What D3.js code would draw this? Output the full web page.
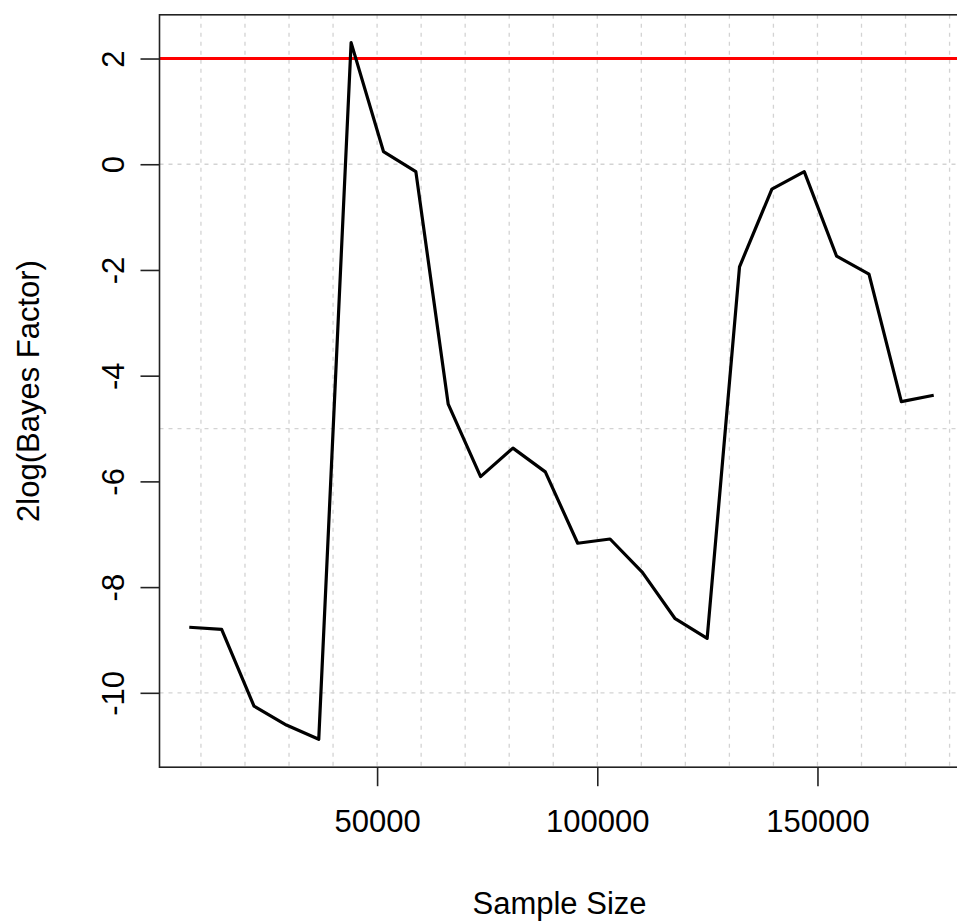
<!DOCTYPE html>
<html>
<head>
<meta charset="utf-8">
<script src="https://cdnjs.cloudflare.com/ajax/libs/d3/7.8.5/d3.min.js"></script>
<style>
  body { margin: 0; background: #fff; }
  text { font-family: "Liberation Sans", Arial, sans-serif; fill: #000; }
</style>
</head>
<body>
<div id="plot"></div>
<script>
// sample sizes (x) and 2log(Bayes Factor) values (y)
const sampleSize = [7350, 14700, 22050, 29400, 36750, 44100, 51450, 58800,
    66150, 73500, 80850, 88200, 95550, 102900, 110250, 117600,
    124950, 132300, 139650, 147000, 154350, 161700, 169050, 176400];
const bayesFactor = [-8.76, -8.80, -10.25, -10.61, -10.88, 2.30, 0.24, -0.14,
    -4.54, -5.91, -5.37, -5.82, -7.17, -7.09, -7.72, -8.59,
    -8.97, -1.94, -0.47, -0.14, -1.74, -2.08, -4.49, -4.37];
const threshold = 2;

const xTicks = [50000, 100000, 150000];
const yTicks = [2, 0, -2, -4, -6, -8, -10];
const xGrid = [10000, 20000, 30000, 40000, 50000, 60000, 70000, 80000, 90000,
    100000, 110000, 120000, 130000, 140000, 150000, 160000, 170000, 180000];
const yGrid = [0, -5, -10];

const W = 957, H = 922;
const plot = {left: 159.5, right: 963.5, top: 14.8, bottom: 767.2};

const svg = d3.select("#plot").append("svg")
    .attr("width", W)
    .attr("height", H);

// R style axis limits: data range padded by 4% on each side
function pad(ext) {
    const d = (ext[1] - ext[0]) * 0.04;
    return [ext[0] - d, ext[1] + d];
}

const x = d3.scaleLinear()
    .domain(pad(d3.extent(sampleSize)))
    .range([plot.left, plot.right]);

const y = d3.scaleLinear()
    .domain(pad(d3.extent(bayesFactor)))
    .range([plot.bottom, plot.top]);

// dotted grid
svg.append("g").selectAll("line").data(xGrid)
    .enter().append("line")
    .attr("x1", d => x(d)).attr("x2", d => x(d))
    .attr("y1", plot.top).attr("y2", plot.bottom)
    .attr("stroke", "#d3d3d3")
    .attr("stroke-width", 1.3)
    .attr("stroke-dasharray", "4,5");

svg.append("g").selectAll("line").data(yGrid)
    .enter().append("line")
    .attr("x1", plot.left).attr("x2", plot.right)
    .attr("y1", d => y(d)).attr("y2", d => y(d))
    .attr("stroke", "#d3d3d3")
    .attr("stroke-width", 1.3)
    .attr("stroke-dasharray", "4,5");

// threshold line
svg.append("line")
    .attr("x1", plot.left).attr("x2", plot.right)
    .attr("y1", y(threshold)).attr("y2", y(threshold))
    .attr("stroke", "#ff0000")
    .attr("stroke-width", 3);

// the series
const line = d3.line()
    .x((d, i) => x(sampleSize[i]))
    .y(d => y(d));

svg.append("path")
    .datum(bayesFactor)
    .attr("d", line)
    .attr("fill", "none")
    .attr("stroke", "#000")
    .attr("stroke-width", 3.2)
    .attr("stroke-linejoin", "round");

// box
svg.append("rect")
    .attr("x", plot.left).attr("y", plot.top)
    .attr("width", plot.right - plot.left)
    .attr("height", plot.bottom - plot.top)
    .attr("fill", "none")
    .attr("stroke", "#222")
    .attr("stroke-width", 1.6);

// x axis
const xAxis = svg.append("g")
    .attr("transform", "translate(0," + plot.bottom + ")")
    .call(d3.axisBottom(x).tickValues(xTicks).tickSize(19).tickPadding(24).tickFormat(d3.format("d")));
xAxis.select(".domain").remove();
xAxis.selectAll("line").attr("stroke", "#222").attr("stroke-width", 1.6);
xAxis.selectAll("text")
    .style("font-size", "31px")
    .attr("font-family", null);

// y axis, labels turned like R's default las = 0
const yAxis = svg.append("g")
    .attr("transform", "translate(" + plot.left + ",0)")
    .call(d3.axisLeft(y).tickValues(yTicks).tickSize(19).tickFormat(d3.format("d")));
yAxis.select(".domain").remove();
yAxis.selectAll("line").attr("stroke", "#222").attr("stroke-width", 1.6);
yAxis.selectAll("text")
    .attr("x", null).attr("dy", null)
    .attr("transform", "translate(-46,0) rotate(-90)")
    .attr("text-anchor", "middle")
    .attr("dy", "0.35em")
    .style("font-size", "31px")
    .text(d => d < 0 ? "-" + Math.abs(d) : d);

// axis titles
svg.append("text")
    .attr("x", (plot.left + plot.right) / 2 - 2)
    .attr("y", 914)
    .attr("text-anchor", "middle")
    .style("font-size", "31px")
    .text("Sample Size");

svg.append("text")
    .attr("transform", "translate(39," + (plot.top + plot.bottom) / 2 + ") rotate(-90)")
    .attr("text-anchor", "middle")
    .style("font-size", "31px")
    .text("2log(Bayes Factor)");
</script>
</body>
</html>
